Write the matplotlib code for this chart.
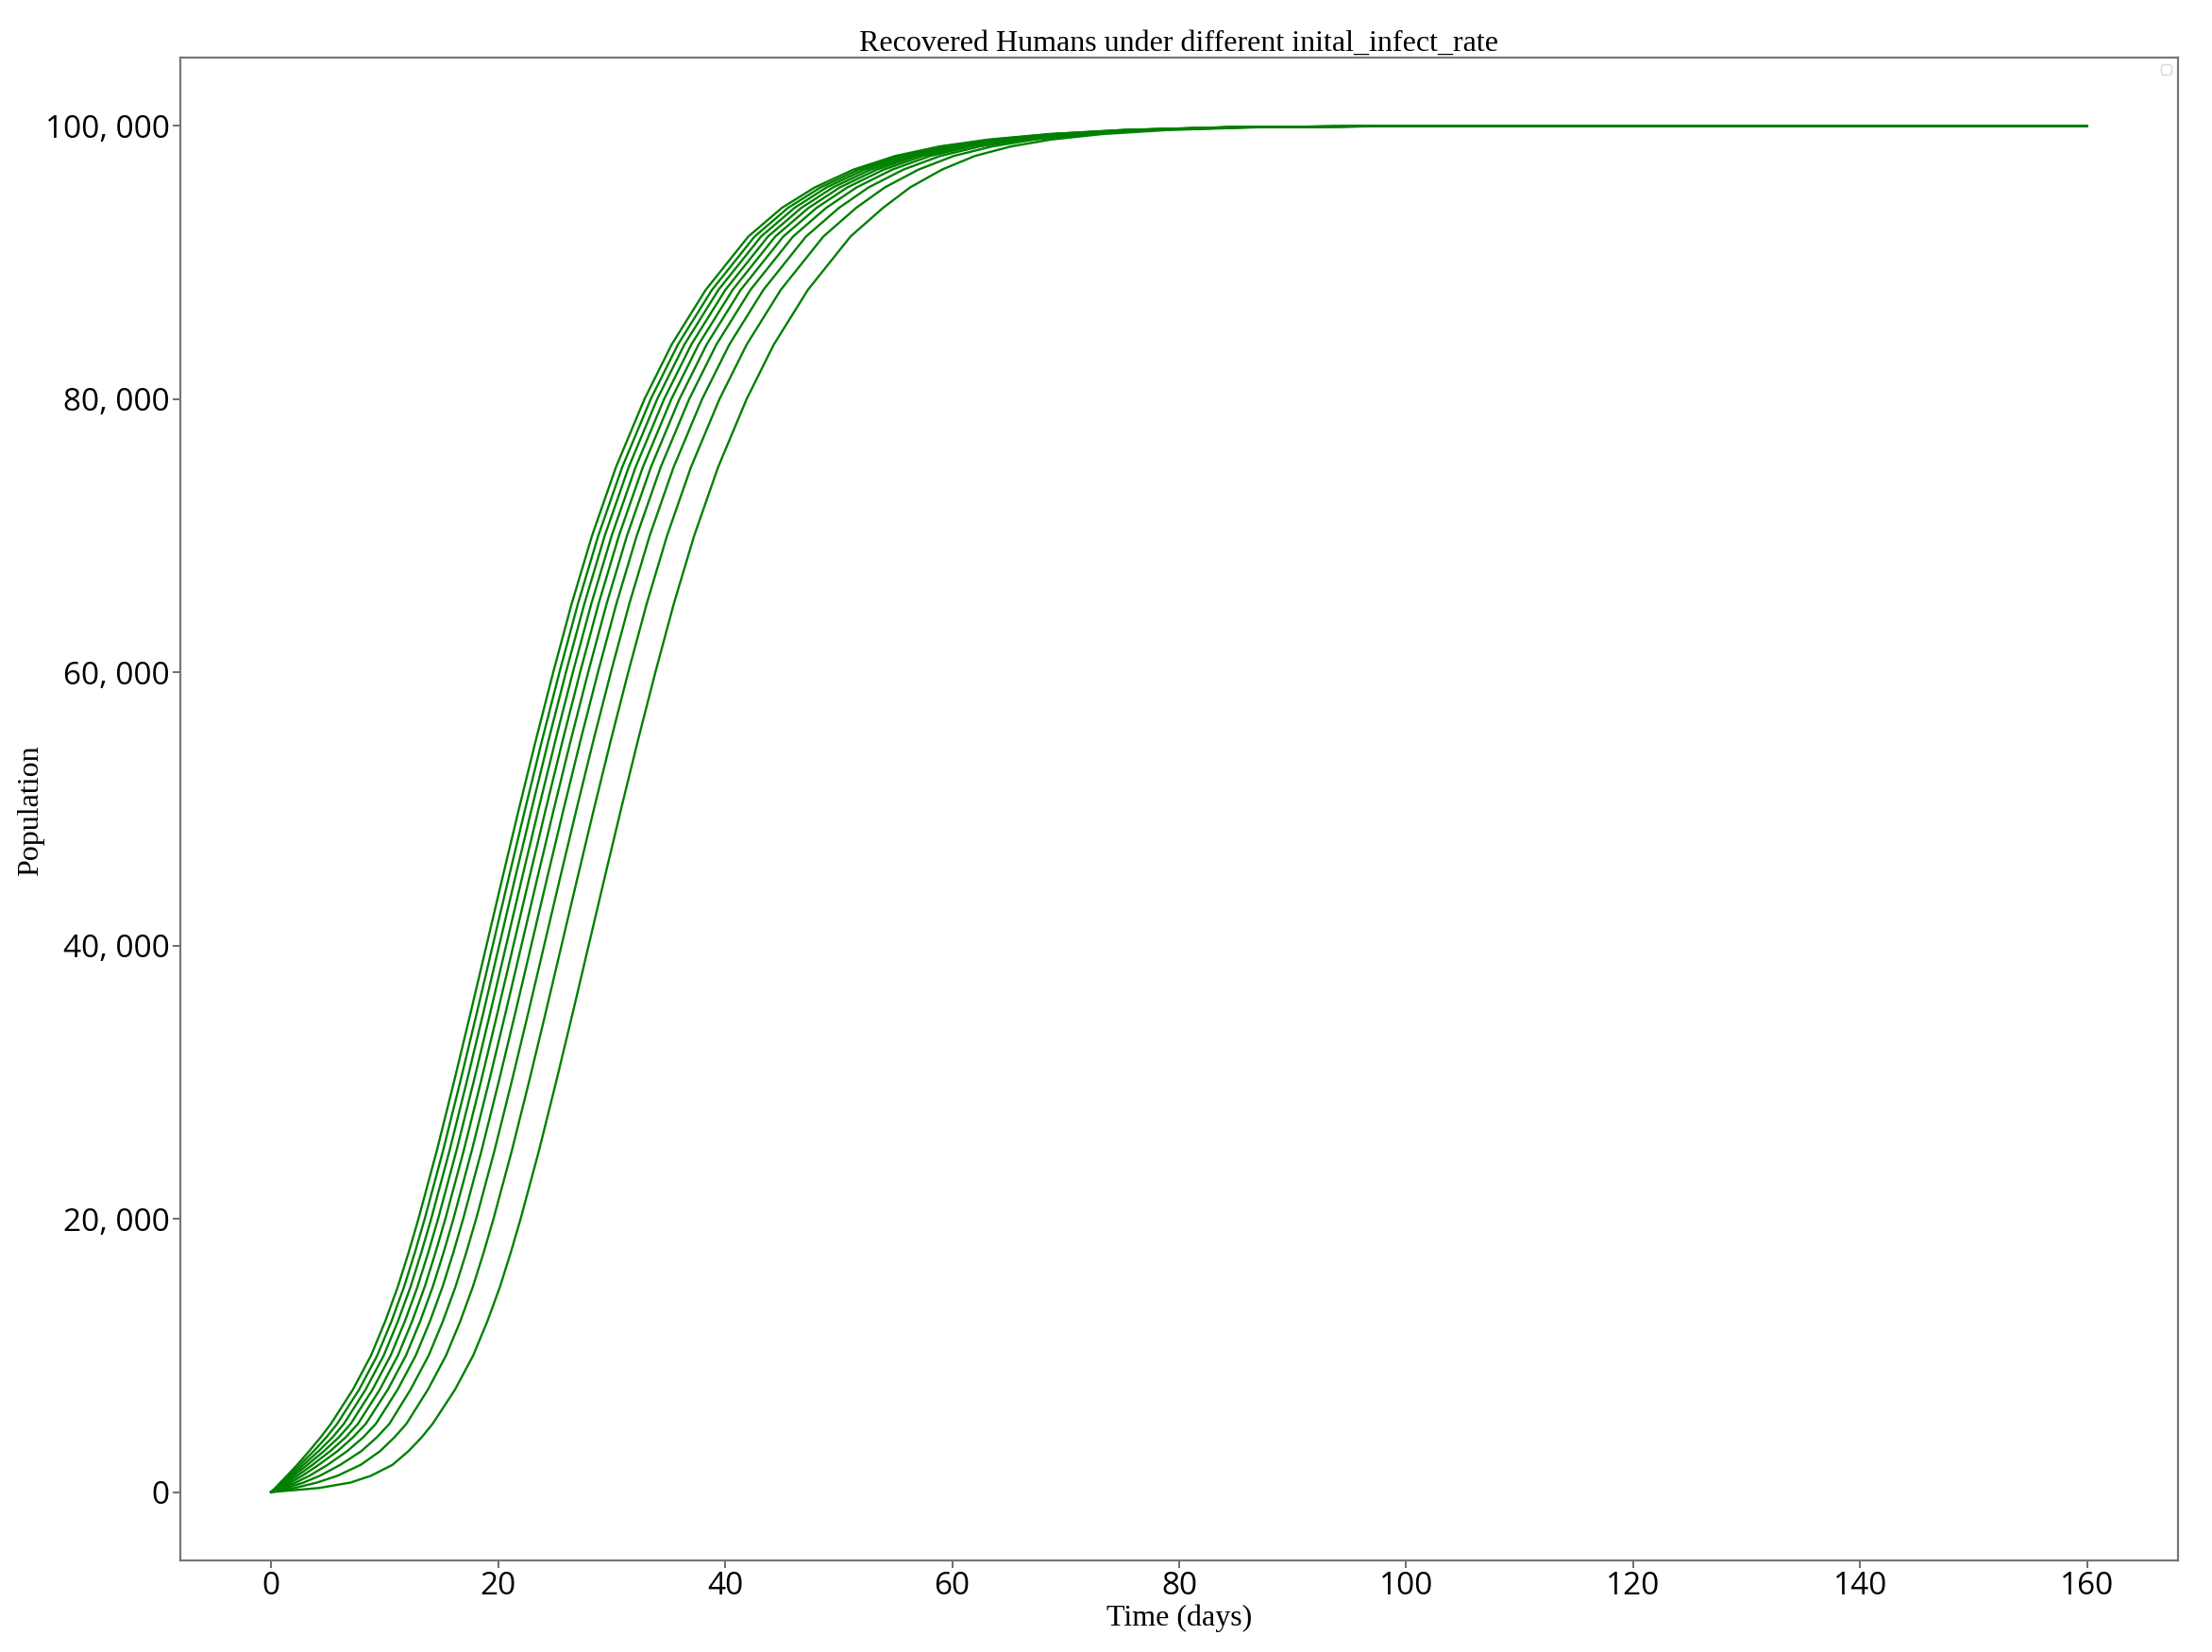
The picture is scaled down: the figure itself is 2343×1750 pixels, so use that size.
import matplotlib
matplotlib.use("Agg")
import matplotlib.pyplot as plt
from matplotlib.ticker import FuncFormatter

# Population levels (shared) and the day at which each curve reaches them
levels = [0, 300, 700, 1200, 2000, 3000, 4000, 5000, 7500, 10000, 12500, 15000, 17500,
          20000, 25000, 30000, 35000, 40000, 45000, 50000, 55000, 60000, 65000, 70000,
          75000, 80000, 84000, 88000, 91900, 94000, 95500, 96800, 97800, 98500, 99000,
          99400, 99700, 99900, 100000]

curve_0 = [0, 0.36, 0.82, 1.4, 2.3, 3.35, 4.35, 5.27,
           7.2, 8.8, 10.05, 11.15, 12.1, 12.98, 14.60, 16.10, 17.55, 18.97, 20.39, 21.83,
           23.31, 24.85, 26.47, 28.27, 30.37, 32.89, 35.29, 38.29, 42.04,
           45.0, 47.9, 51.3, 55.0, 58.9, 63.2, 68.5, 75.0, 84.0, 100.0]
curve_1 = [0, 0.40, 0.92, 1.56, 2.55, 3.75, 4.85, 5.82,
           7.75, 9.35, 10.6, 11.7, 12.65, 13.53, 15.15, 16.65, 18.1, 19.52, 20.94, 22.38,
           23.86, 25.4, 27.02, 28.82, 30.92, 33.44, 35.84, 38.84, 42.59,
           45.54, 48.41, 51.78, 55.43, 59.29, 63.54, 68.79, 75.24, 84.18, 100.12]
curve_2 = [0, 0.45, 1.04, 1.76, 2.85, 4.18, 5.40, 6.41,
           8.32, 9.92, 11.17, 12.27, 13.22, 14.10, 15.72, 17.22, 18.67, 20.09, 21.51, 22.95,
           24.43, 25.97, 27.59, 29.39, 31.49, 34.01, 36.41, 39.41, 43.16,
           46.11, 48.94, 52.27, 55.87, 59.68, 63.88, 69.08, 75.5, 84.37, 100.25]
curve_3 = [0, 0.52, 1.19, 2.0, 3.2, 4.65, 5.95, 7.01,
           8.93, 10.53, 11.78, 12.88, 13.83, 14.71, 16.33, 17.83, 19.28, 20.70, 22.12, 23.56,
           25.04, 26.58, 28.20, 30.00, 32.10, 34.62, 37.02, 40.02, 43.77,
           46.71, 49.51, 52.80, 56.35, 60.11, 64.26, 69.40, 75.77, 84.58, 100.38]
curve_4 = [0, 0.62, 1.40, 2.32, 3.65, 5.2, 6.55, 7.65,
           9.57, 11.17, 12.42, 13.52, 14.47, 15.35, 16.97, 18.47, 19.92, 21.34, 22.76, 24.20,
           25.68, 27.22, 28.84, 30.64, 32.74, 35.26, 37.66, 40.66, 44.41,
           47.35, 50.11, 53.35, 56.84, 60.56, 64.65, 69.74, 76.05, 84.79, 100.53]
curve_5 = [0, 0.76, 1.70, 2.75, 4.2, 5.85, 7.2, 8.34,
           10.28, 11.88, 13.13, 14.23, 15.18, 16.06, 17.68, 19.18, 20.63, 22.05, 23.47, 24.91,
           26.39, 27.93, 29.55, 31.35, 33.45, 35.97, 38.37, 41.37, 45.12,
           48.05, 50.77, 53.97, 57.40, 61.06, 65.08, 70.11, 76.37, 85.03, 100.68]
curve_6 = [0, 0.98, 2.15, 3.38, 4.98, 6.7, 8.1, 9.23,
           11.14, 12.74, 13.99, 15.09, 16.04, 16.92, 18.54, 20.04, 21.49, 22.91, 24.33, 25.77,
           27.25, 28.79, 30.41, 32.21, 34.31, 36.83, 39.23, 42.23, 45.98,
           48.90, 51.58, 54.72, 58.07, 61.66, 65.61, 70.56, 76.75, 85.31, 100.87]
curve_7 = [0, 1.35, 2.85, 4.3, 6.1, 7.95, 9.3, 10.42,
           12.28, 13.88, 15.13, 16.23, 17.18, 18.06, 19.68, 21.18, 22.63, 24.05, 25.47, 26.91,
           28.39, 29.93, 31.55, 33.35, 35.45, 37.97, 40.37, 43.37, 47.12,
           50.03, 52.64, 55.70, 58.95, 62.46, 66.30, 71.15, 77.26, 85.69, 101.13]
curve_8 = [0, 2.05, 4.05, 5.85, 7.9, 9.6, 10.85, 11.92,
           13.81, 15.41, 16.66, 17.76, 18.71, 19.59, 21.21, 22.71, 24.16, 25.58, 27.00, 28.44,
           29.92, 31.46, 33.08, 34.88, 36.98, 39.50, 41.90, 44.90, 48.65,
           51.54, 54.07, 57.03, 60.14, 63.53, 67.24, 71.95, 77.93, 86.20, 101.47]
curve_9 = [0, 4.2, 7.0, 8.8, 10.7, 12.1, 13.25, 14.23,
           16.2, 17.8, 19.05, 20.15, 21.1, 21.98, 23.6, 25.1, 26.55, 27.97, 29.39, 30.83,
           32.31, 33.85, 35.47, 37.27, 39.37, 41.89, 44.29, 47.29, 51.04,
           53.91, 56.30, 59.10, 62.00, 65.20, 68.70, 73.20, 79.00, 87.00, 102.00]

end_day = 160
end_value = 100000

curves = [curve_0, curve_1, curve_2, curve_3, curve_4,
          curve_5, curve_6, curve_7, curve_8, curve_9]

xticks = [0, 20, 40, 60, 80, 100, 120, 140, 160]
yticks = [0, 20000, 40000, 60000, 80000, 100000]

fig = plt.figure(figsize=(23.43, 17.5), dpi=100)
ax = fig.add_axes([191 / 2343, 1 - 1653 / 1750, (2307 - 191) / 2343, (1653 - 61) / 1750])

for c in curves:
    ax.plot(list(c) + [end_day], list(levels) + [end_value], color="green", lw=1.7)

ax.set_xlim(-8, 168)
ax.set_ylim(-5000, 105000)
ax.set_xticks(xticks)
ax.set_yticks(yticks)
ax.yaxis.set_major_formatter(FuncFormatter(lambda v, p: f"{int(v):,}".replace(",", ", ")))

for lab in ax.get_xticklabels() + ax.get_yticklabels():
    lab.set_fontfamily("Open Sans")
    lab.set_fontsize(24)
ax.tick_params(axis="both", direction="out", length=6, width=1.2, color="#555555", pad=2)

for s in ax.spines.values():
    s.set_color("#777777")
    s.set_linewidth(1.6)

ax.set_title("Recovered Humans under different inital_infect_rate",
             fontfamily="Liberation Serif", fontsize=23, pad=4)
ax.set_xlabel("Time (days)", fontfamily="Liberation Serif", fontsize=23, labelpad=2)
fig.text(33 / 2343, 1 - 859 / 1750, "Population", rotation=90, ha="center", va="center",
         fontfamily="Liberation Serif", fontsize=23)

ax.legend(handles=[], loc="upper right", frameon=True)

fig.savefig("out.png", dpi=100, facecolor="white")
